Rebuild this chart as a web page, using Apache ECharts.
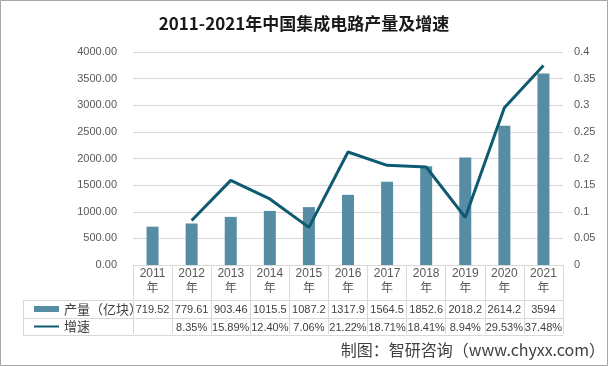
<!DOCTYPE html>
<html>
<head>
<meta charset="utf-8">
<script src="https://cdn.jsdelivr.net/npm/echarts@6/dist/echarts.min.js"></script>
<style>html,body{margin:0;padding:0;background:#fff}#c{width:608px;height:366px}</style>
</head>
<body>
<div id="c"></div>
<script>
var years = ['2011', '2012', '2013', '2014', '2015', '2016', '2017', '2018', '2019', '2020', '2021'];
var production = [719.52, 779.61, 903.46, 1015.5, 1087.2, 1317.9, 1564.5, 1852.6, 2018.2, 2614.2, 3594];
var growth = [null, 0.0835, 0.1589, 0.1240, 0.0706, 0.2122, 0.1871, 0.1841, 0.0894, 0.2953, 0.3748];
var seriesNames = ['产量（亿块）', '增速'];
var titleText = '2011-2021年中国集成电路产量及增速';
var sourceText = '制图：智研咨询（www.chyxx.com）';

var FONT = 'Liberation Sans, Noto Sans CJK SC, sans-serif';
var BAR = '#578da4';
var LINE = '#0e5a70';
var GRID = '#d9d9d9';
var LBL = '#595959';

var yearLabels = years.map(function (y) { return y + '\n年'; });
var prodLabels = production.map(function (v) { return String(v); });
var growthLabels = growth.map(function (v) { return v == null ? '' : (v * 100).toFixed(2) + '%'; });

var chart = echarts.init(document.getElementById('c'));
function tableAxis(data, offset) {
  return {
    type: 'category', data: data, position: 'bottom', offset: offset,
    axisLine: {show: false}, axisTick: {show: false}, splitLine: {show: false},
    axisLabel: {interval: 0, margin: 0, fontSize: 11, lineHeight: 14, color: '#404040', fontFamily: FONT}
  };
}
chart.setOption({
  animation: false,
  title: {
    text: titleText, left: 'center', top: 10,
    textStyle: {fontSize: 17, fontWeight: 'bold', color: '#1a1a1a', fontFamily: 'Noto Sans CJK SC'}
  },
  legend: {
    orient: 'vertical', left: 28, top: 297, itemGap: 3.5,
    itemWidth: 25, itemHeight: 6,
    textStyle: {fontSize: 13, lineHeight: 14, color: '#404040', fontFamily: 'Noto Sans CJK SC'},
    data: [{name: seriesNames[0], icon: 'rect'}, {name: seriesNames[1], itemStyle: {opacity: 0}}]
  },
  grid: {left: 133, right: 45, top: 52, bottom: 101},
  xAxis: [
    {
      type: 'category', data: yearLabels,
      axisLine: {lineStyle: {color: GRID}},
      axisTick: {show: true, interval: 0, length: 69, lineStyle: {color: GRID}},
      axisLabel: {interval: 0, margin: 1, fontSize: 12, lineHeight: 15, color: LBL, fontFamily: FONT}
    },
    tableAxis(prodLabels, 38),
    tableAxis(growthLabels, 56)
  ],
  yAxis: [
    {
      type: 'value', min: 0, max: 4000, interval: 500,
      axisLine: {show: false}, axisTick: {show: false},
      splitLine: {lineStyle: {color: GRID}},
      axisLabel: {margin: 16, fontSize: 11, color: LBL, fontFamily: FONT,
        formatter: function (v) { return v.toFixed(2); }}
    },
    {
      type: 'value', min: 0, max: 0.4, interval: 0.05, position: 'right',
      axisLine: {show: false}, axisTick: {show: false}, splitLine: {show: false},
      axisLabel: {margin: 11, fontSize: 11, color: LBL, fontFamily: FONT,
        formatter: function (v) { return String(+v.toFixed(2)); }}
    }
  ],
  series: [
    {name: seriesNames[0], type: 'bar', data: production, barWidth: 12, itemStyle: {color: BAR}},
    {name: seriesNames[1], type: 'line', yAxisIndex: 1, data: growth, symbol: 'none',
      lineStyle: {color: LINE, width: 3}, itemStyle: {color: LINE}}
  ],
  graphic: [
    {type: 'rect', shape: {x: 0.5, y: 0.5, width: 607, height: 365}, style: {fill: 'none', stroke: '#a6a6a6', lineWidth: 1}, silent: true},
    {type: 'line', shape: {x1: 23, y1: 300.5, x2: 563, y2: 300.5}, style: {stroke: GRID, lineWidth: 1}, silent: true},
    {type: 'line', shape: {x1: 23, y1: 318.5, x2: 563, y2: 318.5}, style: {stroke: GRID, lineWidth: 1}, silent: true},
    {type: 'line', shape: {x1: 23, y1: 335.5, x2: 563, y2: 335.5}, style: {stroke: GRID, lineWidth: 1}, silent: true},
    {type: 'line', shape: {x1: 23.5, y1: 300, x2: 23.5, y2: 335}, style: {stroke: GRID, lineWidth: 1}, silent: true},
    {type: 'text', right: 3, top: 342, style: {text: sourceText, fontSize: 16, fill: '#404040', fontFamily: 'Noto Sans CJK SC'}, silent: true}
  ]
});
</script>
</body>
</html>
